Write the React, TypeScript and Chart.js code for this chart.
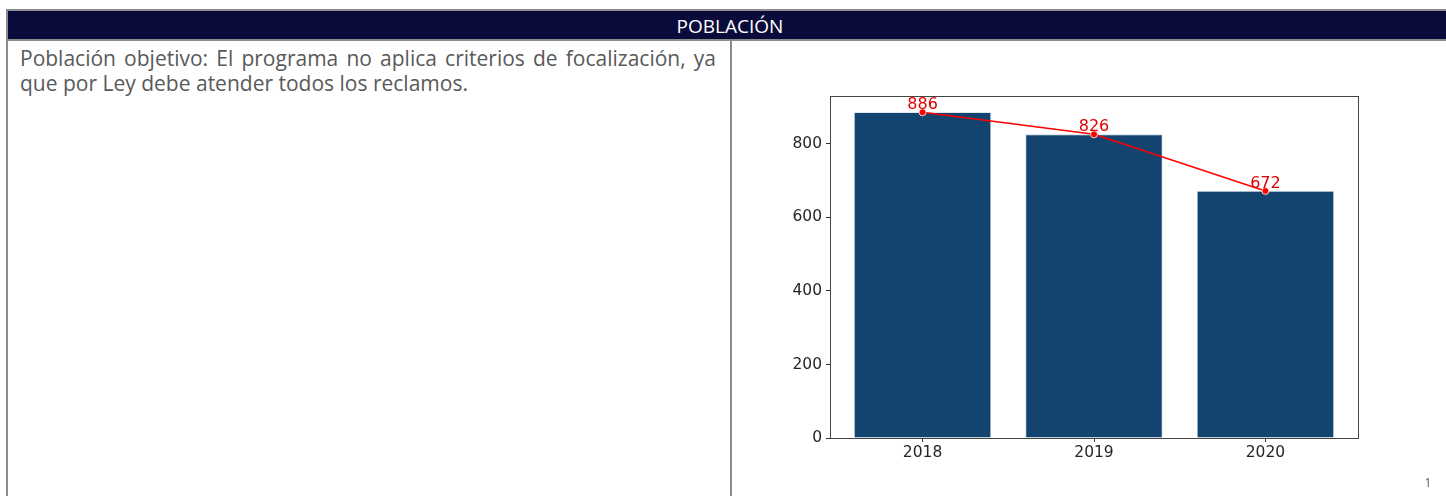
import React, { useEffect, useRef } from "react";
import { Chart, registerables } from "chart.js";

Chart.register(...registerables);

// ---- data ----
const years: string[] = ["2018", "2019", "2020"];
const poblacion: number[] = [886, 826, 672];
const yTicks: number[] = [0, 200, 400, 600, 800];
const yMax = 930.3;
const xMin = -0.54;
const xMax = 2.54;

const headerTitle = "POBLACIÓN";
const textLine1 = "Población objetivo: El programa no aplica criterios de focalización, ya";
const textLine2 = "que por Ley debe atender todos los reclamos.";
const pageNumber = "1";

const framePlugin = {
  id: "frameAndLabels",
  afterDatasetsDraw(chart: any) {
    const { ctx, chartArea: a } = chart;
    ctx.save();
    ctx.strokeStyle = "#444444";
    ctx.lineWidth = 1;
    ctx.strokeRect(
      Math.round(a.left) + 0.5,
      Math.round(a.top) + 0.5,
      Math.round(a.right - a.left),
      Math.round(a.bottom - a.top)
    );
    const meta = chart.getDatasetMeta(0);
    ctx.fillStyle = "#e00000";
    ctx.font = "16px 'DejaVu Sans'";
    ctx.textAlign = "center";
    ctx.textBaseline = "alphabetic";
    meta.data.forEach((pt: any, i: number) => {
      ctx.fillText(String(poblacion[i]), pt.x, pt.y - 3);
    });
    ctx.restore();
  },
};

function PoblacionChart() {
  const ref = useRef<HTMLCanvasElement | null>(null);
  useEffect(() => {
    if (!ref.current) return;
    const tickFont = { family: "'DejaVu Sans'", size: 15.5 };
    const chart = new Chart(ref.current, {
      type: "bar",
      data: {
        datasets: [
          {
            type: "line",
            data: poblacion.map((v, i) => ({ x: i, y: v })),
            borderColor: "#ff0000",
            borderWidth: 1.5,
            pointRadius: 3.5,
            pointBackgroundColor: "#ff0000",
            pointBorderColor: "#ffffff",
            pointBorderWidth: 0.8,
            tension: 0,
            order: 0,
          } as any,
          {
            type: "bar",
            data: poblacion.map((v, i) => ({ x: i, y: v })),
            backgroundColor: "#13446f",
            borderColor: "rgba(190,208,228,0.9)",
            borderWidth: 0.8,
            categoryPercentage: 1,
            barPercentage: 0.8,
            order: 1,
          } as any,
        ],
      },
      options: {
        animation: false,
        responsive: false,
        maintainAspectRatio: false,
        layout: { padding: { top: 55, right: 86, bottom: 0, left: 0 } },
        plugins: { legend: { display: false }, tooltip: { enabled: false } },
        scales: {
          x: {
            type: "linear",
            offset: false,
            min: xMin,
            max: xMax,
            afterBuildTicks: (s: any) => {
              s.ticks = years.map((_, i) => ({ value: i }));
            },
            afterFit: (s: any) => {
              s.height = 58;
            },
            ticks: {
              callback: (v: any) => years[Math.round(Number(v))] ?? "",
              font: tickFont,
              color: "#262626",
              padding: 2,
              maxRotation: 0,
              autoSkip: false,
            },
            grid: {
              display: true,
              offset: false,
              drawOnChartArea: false,
              drawTicks: true,
              tickLength: 4,
              color: "#333333",
            },
            border: { display: false },
          },
          y: {
            type: "linear",
            min: 0,
            max: yMax,
            afterBuildTicks: (s: any) => {
              s.ticks = yTicks.map((v) => ({ value: v }));
            },
            afterFit: (s: any) => {
              s.width = 98;
            },
            ticks: {
              font: tickFont,
              color: "#262626",
              padding: 4,
            },
            grid: {
              display: true,
              drawOnChartArea: false,
              drawTicks: true,
              tickLength: 4,
              color: "#333333",
            },
            border: { display: false },
          },
        },
      } as any,
      plugins: [framePlugin],
    });
    return () => chart.destroy();
  }, []);
  return (
    <canvas
      ref={ref}
      width={712}
      height={455}
      style={{ position: "absolute", left: 732, top: 41, width: 712, height: 455 }}
    />
  );
}

export default function App() {
  const grey = "#8c8c8c";
  const textFont = "'Open Sans', 'Noto Sans', sans-serif";
  return (
    <div
      style={{
        position: "absolute",
        left: 0,
        top: 0,
        width: 1446,
        height: 496,
        overflow: "hidden",
        background: "#ffffff",
        fontFamily: textFont,
      }}
    >
      {/* top border + header */}
      <div style={{ position: "absolute", left: 6, top: 9, width: 1440, height: 2, background: grey }} />
      <div style={{ position: "absolute", left: 6, top: 11, width: 1440, height: 28, background: "#0a0b3b" }} />
      <div style={{ position: "absolute", left: 6, top: 39, width: 1440, height: 2, background: grey }} />
      <div
        style={{
          position: "absolute",
          left: 430,
          top: 11,
          width: 600,
          height: 28,
          lineHeight: "30px",
          textAlign: "center",
          color: "#ffffff",
          fontSize: 19,
          fontFamily: textFont,
        }}
      >
        {headerTitle}
      </div>
      {/* left border and divider */}
      <div style={{ position: "absolute", left: 6, top: 9, width: 2, height: 487, background: grey }} />
      <div style={{ position: "absolute", left: 730, top: 41, width: 2, height: 455, background: grey }} />
      {/* left text */}
      <div
        style={{
          position: "absolute",
          left: 20,
          top: 46,
          width: 696,
          fontSize: 21,
          lineHeight: "25px",
          color: "#595959",
          fontFamily: textFont,
        }}
      >
        <div style={{ textAlign: "justify", textAlignLast: "justify", whiteSpace: "nowrap" } as any}>{textLine1}</div>
        <div style={{ whiteSpace: "nowrap" }}>{textLine2}</div>
      </div>
      {/* chart */}
      <PoblacionChart />
      {/* page number */}
      <div
        style={{
          position: "absolute",
          left: 1420,
          top: 474,
          width: 16,
          textAlign: "center",
          fontSize: 12,
          color: "#595959",
          fontFamily: textFont,
        }}
      >
        {pageNumber}
      </div>
    </div>
  );
}
